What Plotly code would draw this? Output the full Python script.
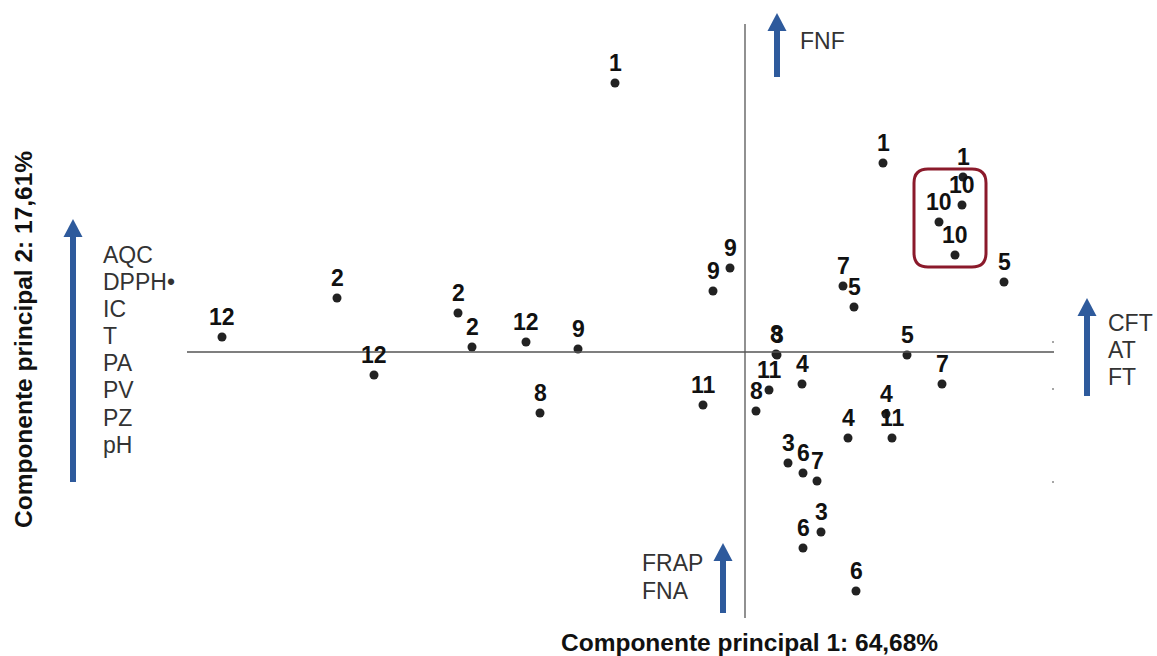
import plotly.graph_objects as go

# PCA scores of the samples (three replicates per sample)
muestra = ["1", "1", "1",
           "2", "2", "2",
           "3", "3", "3",
           "4", "4", "4",
           "5", "5", "5",
           "6", "6", "6",
           "7", "7", "7",
           "8", "8", "8",
           "9", "9", "9",
           "10", "10", "10",
           "11", "11", "11",
           "12", "12", "12"]
cp1 = [-1.30, 1.38, 2.18,
       -4.08, -2.87, -2.73,
       0.32, 0.43, 0.76,
       0.57, 1.41, 1.03,
       2.59, 1.09, 1.62,
       0.58, 0.58, 1.11,
       0.98, 1.97, 0.72,
       -2.05, 0.11, 0.31,
       -1.67, -0.15, -0.32,
       2.17, 1.94, 2.10,
       -0.42, 0.24, 1.47,
       -5.23, -3.71, -2.19]
cp2 = [2.69, 1.89, 1.75,
       0.54, 0.39, 0.05,
       -0.03, -1.11, -1.80,
       -0.32, -0.62, -0.86,
       0.70, 0.45, -0.03,
       -1.21, -1.96, -2.39,
       0.66, -0.32, -1.29,
       -0.61, -0.59, -0.02,
       0.03, 0.84, 0.61,
       1.47, 1.30, 0.97,
       -0.53, -0.38, -0.86,
       0.15, -0.23, 0.10]

# Variables loading on each direction
var_cp2_izq = ["AQC", "DPPH•", "IC", "T", "PA", "PV", "PZ", "pH"]
var_cp1_der = ["CFT", "AT", "FT"]
var_arriba = ["FNF"]
var_abajo = ["FRAP", "FNA"]

titulo_x = "Componente principal 1: 64,68%"
titulo_y = "Componente principal 2: 17,61%"

W, H = 1157, 656
FONT = "Liberation Sans, Arial, sans-serif"
BLUE = "#2E5A9C"
TXT = "#333333"


def px(x):
    return x / W


def py(y):
    return 1 - y / H


fig = go.Figure()

fig.add_trace(go.Scatter(
    x=cp1, y=cp2, mode="markers",
    marker=dict(size=9, color="#222222"),
    hoverinfo="text", text=muestra,
))

annotations = []
for lab, xv, yv in zip(muestra, cp1, cp2):
    annotations.append(dict(
        x=xv, y=yv, xref="x", yref="y", text=lab, showarrow=False,
        yshift=20, xanchor="center", yanchor="middle",
        font=dict(family=FONT, size=23, color="#111111", weight="bold"),
    ))

shapes = []
# Axes through the origin
shapes.append(dict(type="line", xref="x", yref="y", x0=-5.58, x1=3.09, y0=0, y1=0,
                   line=dict(color="#555555", width=1.3)))
shapes.append(dict(type="line", xref="x", yref="y", x0=0, x1=0, y0=3.28, y1=-2.66,
                   line=dict(color="#555555", width=1.3)))

# Rounded box around sample 10
bx0, bx1, by0, by1, r = 1.69, 2.41, 0.85, 1.83, 0.14
path = (f"M {bx0 + r},{by1} L {bx1 - r},{by1} Q {bx1},{by1} {bx1},{by1 - r} "
        f"L {bx1},{by0 + r} Q {bx1},{by0} {bx1 - r},{by0} "
        f"L {bx0 + r},{by0} Q {bx0},{by0} {bx0},{by0 + r} "
        f"L {bx0},{by1 - r} Q {bx0},{by1} {bx0 + r},{by1} Z")
shapes.append(dict(type="path", xref="x", yref="y", path=path,
                   line=dict(color="#8B1A2B", width=3)))


def arrow(xc, ytip, ybot, shaft=6, head_w=19, head_h=18):
    shapes.append(dict(type="rect", xref="paper", yref="paper",
                       x0=px(xc - shaft / 2), x1=px(xc + shaft / 2),
                       y0=py(ybot), y1=py(ytip + head_h - 1),
                       line=dict(width=0), fillcolor=BLUE))
    p = (f"M {px(xc)},{py(ytip)} L {px(xc + head_w / 2)},{py(ytip + head_h)} "
         f"L {px(xc - head_w / 2)},{py(ytip + head_h)} Z")
    shapes.append(dict(type="path", xref="paper", yref="paper", path=p,
                       line=dict(width=0), fillcolor=BLUE))


arrow(73, 219, 482)
arrow(777, 13, 77)
arrow(1087, 298, 396)
arrow(723, 543, 613)

# faint marks at the right end of the horizontal axis
for yy in (342, 389, 482):
    shapes.append(dict(type="circle", xref="paper", yref="paper",
                       x0=px(1052), x1=px(1054), y0=py(yy + 1), y1=py(yy - 1),
                       line=dict(width=0), fillcolor="#888888"))


def label(text, x, y, size=23):
    annotations.append(dict(
        x=px(x), y=py(y), xref="paper", yref="paper", text=text, showarrow=False,
        xanchor="left", yanchor="middle",
        font=dict(family=FONT, size=size, color=TXT),
    ))


for i, t in enumerate(var_cp2_izq):
    label(t, 101, 255 + 27.1 * i)
for i, t in enumerate(var_cp1_der):
    label(t, 1106, 323 + 27 * i)
label(var_arriba[0], 798, 41)
for i, t in enumerate(var_abajo):
    label(t, 640, 563 + 28 * i)

annotations.append(dict(
    x=px(749), y=py(642), xref="paper", yref="paper", text=titulo_x, showarrow=False,
    xanchor="center", yanchor="middle",
    font=dict(family=FONT, size=24.5, color="#111111", weight="bold"),
))
annotations.append(dict(
    x=px(23), y=py(340), xref="paper", yref="paper", text=titulo_y, showarrow=False,
    xanchor="center", yanchor="middle", textangle=-90,
    font=dict(family=FONT, size=24.5, color="#111111", weight="bold"),
))

fig.update_layout(
    width=W, height=H,
    margin=dict(l=0, r=0, t=0, b=0),
    paper_bgcolor="white", plot_bgcolor="white",
    showlegend=False,
    xaxis=dict(range=[-7.45, 4.12], visible=False, fixedrange=True),
    yaxis=dict(range=[-3.04, 3.52], visible=False, fixedrange=True),
    shapes=shapes, annotations=annotations,
)

fig.write_html("out.html")
